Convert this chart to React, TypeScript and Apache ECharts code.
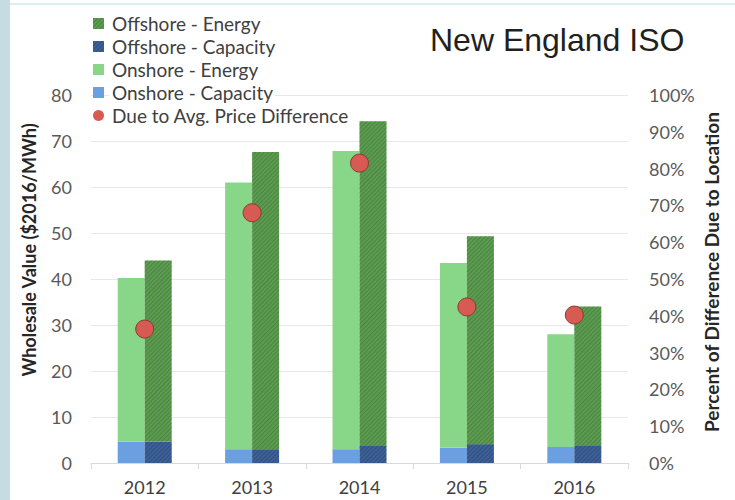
import React, { useEffect, useRef } from "react";
import * as echarts from "echarts";

const years = ["2012", "2013", "2014", "2015", "2016"];
const onshoreCapacity = [4.6, 3.0, 3.0, 3.3, 3.5];
const onshoreEnergy = [35.6, 58.0, 64.8, 40.2, 24.5];
const offshoreCapacity = [4.6, 3.0, 3.7, 4.1, 3.7];
const offshoreEnergy = [39.4, 64.6, 70.6, 45.2, 30.3];
const pctDueToLocation = [36.4, 68.0, 81.5, 42.4, 40.2];

const leftTicks = { min: 0, max: 80, interval: 10 };
const rightTicks = { min: 0, max: 100, interval: 10 };

const FONT = "Lato";

export default function App() {
  const ref = useRef<HTMLDivElement>(null);
  useEffect(() => {
    if (!ref.current) return;
    const chart = echarts.init(ref.current, null, { renderer: "svg" });
    const hatch = (color: string) => ({
      symbol: "rect",
      symbolSize: 1,
      dashArrayX: [1, 0],
      dashArrayY: [1, 1.5],
      rotation: -Math.PI / 4,
      color,
    });
    chart.setOption({
      animation: false,
      backgroundColor: "#ffffff",
      graphic: [
        { type: "rect", shape: { x: 0, y: 0, width: 10, height: 500 }, style: { fill: "#c5dce3" }, silent: true },
        { type: "rect", shape: { x: 10, y: 3, width: 725, height: 2 }, style: { fill: "#dcedf2" }, silent: true },
        {
          type: "text",
          left: 430,
          top: 24,
          style: { text: "New England ISO", font: "32px 'Liberation Sans', Arial, sans-serif", fill: "#231f20" },
        },
        {
          type: "text",
          x: 29,
          y: 250,
          rotation: Math.PI / 2,
          style: {
            text: "Wholesale Value ($2016/MWh)",
            font: "bold 18px Lato",
            fill: "#262626",
            align: "center",
            verticalAlign: "middle",
          },
        },
        {
          type: "text",
          x: 711,
          y: 272,
          rotation: Math.PI / 2,
          style: {
            text: "Percent of Difference Due to Location",
            font: "bold 19px Lato",
            fill: "#262626",
            align: "center",
            verticalAlign: "middle",
          },
        },
      ],
      legend: {
        orient: "vertical",
        left: 88,
        top: 9,
        itemGap: 4,
        itemWidth: 11,
        itemHeight: 11,
        textStyle: { fontFamily: FONT, fontSize: 19, color: "#404040", backgroundColor: "#ffffff", padding: [0, 2, 0, 3] },
        data: [
          { name: "Offshore - Energy", icon: "rect" },
          { name: "Offshore - Capacity", icon: "rect" },
          { name: "Onshore - Energy", icon: "rect" },
          { name: "Onshore - Capacity", icon: "rect" },
          { name: "Due to Avg. Price Difference", icon: "circle", itemStyle: { borderWidth: 0 } },
        ],
      },
      grid: { left: 91, right: 107, top: 95, bottom: 37 },
      xAxis: {
        type: "category",
        data: years,
        axisLine: { lineStyle: { color: "#d9d9d9" } },
        axisTick: { show: true, length: 6, lineStyle: { color: "#d9d9d9" } },
        axisLabel: { fontFamily: FONT, fontSize: 18, color: "#404040", margin: 15 },
      },
      yAxis: [
        {
          type: "value",
          ...leftTicks,
          axisLine: { show: false },
          axisTick: { show: false },
          axisLabel: { fontFamily: FONT, fontSize: 18, color: "#595959", margin: 19 },
          splitLine: { lineStyle: { color: "#e8e8e8" } },
        },
        {
          type: "value",
          ...rightTicks,
          position: "right",
          axisLine: { show: false },
          axisTick: { show: false },
          axisLabel: { fontFamily: FONT, fontSize: 18, color: "#595959", margin: 21, formatter: "{value}%" },
          splitLine: { show: false },
        },
      ],
      series: [
        {
          name: "Onshore - Capacity",
          type: "bar",
          stack: "on",
          barWidth: 27,
          barGap: "0%",
          data: onshoreCapacity,
          itemStyle: { color: "#6a9fe2" },
        },
        {
          name: "Onshore - Energy",
          type: "bar",
          stack: "on",
          barWidth: 27,
          barGap: "0%",
          data: onshoreEnergy,
          itemStyle: { color: "#88d687" },
        },
        {
          name: "Offshore - Capacity",
          type: "bar",
          stack: "off",
          barWidth: 27,
          barGap: "0%",
          data: offshoreCapacity,
          itemStyle: { color: "#3d6096", decal: hatch("rgba(20,40,80,0.3)") },
        },
        {
          name: "Offshore - Energy",
          type: "bar",
          stack: "off",
          barWidth: 27,
          barGap: "0%",
          data: offshoreEnergy,
          itemStyle: { color: "#5c9c51", decal: hatch("rgba(35,75,30,0.3)") },
        },
        {
          name: "Due to Avg. Price Difference",
          type: "scatter",
          yAxisIndex: 1,
          symbolSize: 18,
          z: 5,
          data: pctDueToLocation,
          itemStyle: { color: "#d75a53", borderColor: "#8a3a35", borderWidth: 1, opacity: 1 },
        },
      ],
    });
    return () => chart.dispose();
  }, []);
  return <div ref={ref} style={{ position: "absolute", left: 0, top: 0, width: 735, height: 500 }} />;
}
